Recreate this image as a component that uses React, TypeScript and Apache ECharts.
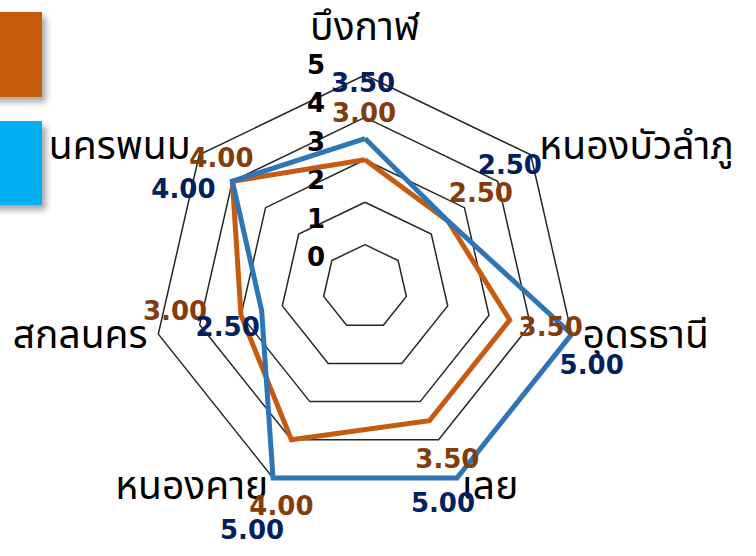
import React, { useEffect, useRef } from 'react';
import * as echarts from 'echarts';

// ---- data ----
const categories = ['บึงกาฬ', 'หนองบัวลำภู', 'อุดรธานี', 'เลย', 'หนองคาย', 'สกลนคร', 'นครพนม'];
const seriesOrange = [3.0, 2.5, 3.5, 3.5, 4.0, 3.0, 4.0];
const seriesBlue = [3.5, 2.5, 5.0, 5.0, 5.0, 2.5, 4.0];
const tickLabels = [0, 1, 2, 3, 4, 5];
const axisMin = 0;
const axisMax = 5;

// ---- layout (px offsets of each value label from its point, per category) ----
const offOrange = [[-1, -47], [33, -28], [41, 7], [18, 38], [-10, 66], [-66, -4], [-11, -23]];
const offBlue = [[-2, -56], [62, -56], [20, 31], [-14, 25], [-21, 52], [-34, 16], [-49, 8]];

const CX = 365;
const CY = 287;
const R = 212;
const THAI = "'Noto Sans Thai', 'Noto Sans Thai Looped', 'Sarabun', 'Noto Sans', sans-serif";
const NUM = "'DejaVu Sans', sans-serif";

// ECharts lays indicators counter-clockwise; the reference runs clockwise.
const order = categories.map((_, j) => (j === 0 ? 0 : categories.length - j));

export default function App() {
  const ref = useRef<HTMLDivElement>(null);
  useEffect(() => {
    if (!ref.current) return;
    const chart = echarts.init(ref.current, null, { renderer: 'svg' });
    const n = categories.length;
    const step = 360 / n;
    const labelLayout = (p: any) => {
      const r = p.rect;
      const px = r.x + r.width / 2;
      const py = r.y + r.height / 2;
      let ang = (Math.atan2(CY - py, px - CX) * 180) / Math.PI - 90;
      ang = ((ang % 360) + 360) % 360;
      const j = Math.round(ang / step) % n;
      const k = order[j];
      const off = p.seriesIndex === 0 ? offOrange[k] : offBlue[k];
      return { x: px + off[0], y: py + off[1], align: 'center', verticalAlign: 'middle' };
    };
    const mk = (name: string, vals: number[], color: string, labelColor: string) => ({
      type: 'radar',
      name,
      symbol: 'circle',
      symbolSize: 1,
      itemStyle: { color },
      lineStyle: { color, width: 5, join: 'miter' },
      label: {
        show: true,
        formatter: (p: any) => Number(p.value).toFixed(2),
        fontFamily: NUM,
        fontSize: 26,
        fontWeight: 'bold',
        color: labelColor,
        letterSpacing: -1.5,
      },
      labelLayout,
      data: [{ name, value: order.map((i) => vals[i]) }],
    });
    chart.setOption({
      animation: false,
      backgroundColor: '#ffffff',
      graphic: [
        {
          type: 'rect',
          shape: { x: -12, y: 12, width: 54, height: 85 },
          style: { fill: '#C55A11', shadowBlur: 6, shadowOffsetX: 4, shadowOffsetY: 5, shadowColor: 'rgba(0,0,0,0.35)' },
        },
        {
          type: 'rect',
          shape: { x: -12, y: 121, width: 54, height: 84 },
          style: { fill: '#00B0F0', shadowBlur: 6, shadowOffsetX: 4, shadowOffsetY: 5, shadowColor: 'rgba(0,0,0,0.35)' },
        },
      ],
      polar: { center: [CX, CY], radius: 222 },
      angleAxis: { type: 'value', startAngle: 90, min: 0, max: 360, show: false },
      radiusAxis: {
        type: 'value',
        min: -0.78,
        max: axisMax,
        axisLine: { show: false },
        axisTick: { show: false },
        splitLine: { show: false },
        axisLabel: {
          customValues: tickLabels,
          margin: 40,
          fontFamily: NUM,
          fontSize: 26,
          fontWeight: 'bold',
          color: '#000',
        },
      },
      radar: {
        center: [CX, CY],
        radius: R,
        startAngle: 90,
        splitNumber: 5,
        shape: 'polygon',
        nameGap: 11,
        indicator: order.map((i) => ({ name: categories[i], min: axisMin, max: axisMax })),
        axisName: {
          color: '#000',
          fontFamily: THAI,
          fontSize: 39,
          verticalAlign: 'middle',
          formatter: (name: string) => (name === categories[0] ? `{top|${name}}` : name),
          rich: { top: { fontFamily: THAI, fontSize: 39, color: '#000', padding: [0, 0, 72, 0] } },
        },
        axisLine: { show: false },
        axisTick: { show: false },
        axisLabel: { show: false },
        splitArea: { show: false },
        splitLine: { lineStyle: { color: '#262626', width: 1.5 } },
      },
      series: [
        mk('orange', seriesOrange, '#C55A11', '#843C0C'),
        mk('blue', seriesBlue, '#2E75B6', '#002060'),
      ],
    });
    return () => chart.dispose();
  }, []);
  return <div ref={ref} style={{ position: 'fixed', left: 0, top: 0, width: 756, height: 556 }} />;
}
